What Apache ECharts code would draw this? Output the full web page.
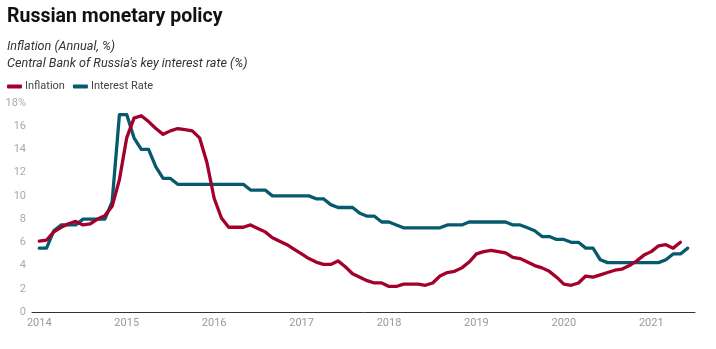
<!DOCTYPE html>
<html>
<head>
<meta charset="utf-8">
<script src="https://cdn.jsdelivr.net/npm/echarts@6/dist/echarts.min.js"></script>
<style>
html,body{margin:0;padding:0;background:#fff;}
#chart{width:716px;height:349px;}
</style>
</head>
<body>
<div id="chart"></div>
<script>
// Monthly, Jan 2014 onwards
const startYear = 2014;
const inflation = [
  6.1, 6.2, 6.9, 7.3, 7.6, 7.8, 7.5, 7.6, 8.0, 8.3, 9.1, 11.4,
  15.0, 16.7, 16.9, 16.4, 15.8, 15.3, 15.6, 15.8, 15.7, 15.6, 15.0, 12.9,
  9.8, 8.1, 7.3, 7.3, 7.3, 7.5, 7.2, 6.9, 6.4, 6.1, 5.8, 5.4,
  5.0, 4.6, 4.3, 4.1, 4.1, 4.4, 3.9, 3.3, 3.0, 2.7, 2.5, 2.5,
  2.2, 2.2, 2.4, 2.4, 2.4, 2.3, 2.5, 3.1, 3.4, 3.5, 3.8, 4.3,
  5.0, 5.2, 5.3, 5.2, 5.1, 4.7, 4.6, 4.3, 4.0, 3.8, 3.5, 3.0,
  2.4, 2.3, 2.5, 3.1, 3.0, 3.2, 3.4, 3.6, 3.7, 4.0, 4.4, 4.9,
  5.2, 5.7, 5.8, 5.5, 6.0
];
const interestRate = [
  5.5, 5.5, 7.0, 7.5, 7.5, 7.5, 8.0, 8.0, 8.0, 8.0, 9.5, 17.0,
  17.0, 15.0, 14.0, 14.0, 12.5, 11.5, 11.5, 11.0, 11.0, 11.0, 11.0, 11.0,
  11.0, 11.0, 11.0, 11.0, 11.0, 10.5, 10.5, 10.5, 10.0, 10.0, 10.0, 10.0,
  10.0, 10.0, 9.75, 9.75, 9.25, 9.0, 9.0, 9.0, 8.5, 8.25, 8.25, 7.75,
  7.75, 7.5, 7.25, 7.25, 7.25, 7.25, 7.25, 7.25, 7.5, 7.5, 7.5, 7.75,
  7.75, 7.75, 7.75, 7.75, 7.75, 7.5, 7.5, 7.25, 7.0, 6.5, 6.5, 6.25,
  6.25, 6.0, 6.0, 5.5, 5.5, 4.5, 4.25, 4.25, 4.25, 4.25, 4.25, 4.25,
  4.25, 4.25, 4.5, 5.0, 5.0, 5.5
];
const yTicks = [0, 2, 4, 6, 8, 10, 12, 14, 16, 18];
const seriesNames = ['Inflation', 'Interest Rate'];

// category list: one blank pad each side, then monthly labels
const months = [];
for (let i = 0; i < interestRate.length; i++) {
  const y = startYear + Math.floor(i / 12);
  const m = (i % 12) + 1;
  months.push(y + '-' + (m < 10 ? '0' + m : m));
}
const categories = [''].concat(months, ['']);

const RED = '#a3002b';
const BLUE = '#075a6e';
const chart = echarts.init(document.getElementById('chart'), null, {renderer: 'canvas'});
chart.setOption({
  animation: false,
  backgroundColor: '#fff',
  textStyle: {fontFamily: 'Roboto'},
  title: [
    {text: 'Russian monetary policy', left: 2, top: 2,
     textStyle: {fontFamily: 'Roboto', fontSize: 19.5, fontWeight: 'bold', color: '#111'}},
    {text: 'Inflation (Annual, %)\nCentral Bank of Russia\'s key interest rate (%)', left: 2, top: 33,
     textStyle: {fontFamily: 'Roboto', fontSize: 12.6, fontStyle: 'italic', fontWeight: 'normal', color: '#333', lineHeight: 17}}
  ],
  legend: {
    left: 2, top: 76, itemWidth: 15, itemHeight: 4, itemGap: 8,
    icon: 'roundRect',
    textStyle: {fontFamily: 'Roboto', fontSize: 11, color: '#444', padding: [0,0,0,-2]},
    data: seriesNames
  },
  grid: {left: 32, right: 21, top: 103, bottom: 37, containLabel: false},
  xAxis: {
    type: 'category', data: categories, boundaryGap: false,
    axisLine: {show: true, lineStyle: {color: '#333', width: 1}},
    axisTick: {show: false},
    splitLine: {show: false},
    axisLabel: {
      color: '#999', fontSize: 11, fontFamily: 'Roboto', margin: 6,
      interval: function (idx, val) { return val.slice(5) === '01'; },
      formatter: function (val) { return val.slice(0, 4); }
    }
  },
  yAxis: {
    type: 'value', min: yTicks[0], max: yTicks[yTicks.length - 1], interval: 2,
    axisLine: {show: false}, axisTick: {show: false}, splitLine: {show: false},
    axisLabel: {
      color: '#aaa', fontSize: 11, fontFamily: 'Roboto', margin: 6,
      formatter: function (v) { return v === 18 ? '18%' : String(v); }
    }
  },
  series: [
    {name: seriesNames[0], type: 'line', data: [null].concat(inflation), showSymbol: false, symbol: 'none',
     lineStyle: {color: RED, width: 3.3, join: 'round', cap: 'round'}, itemStyle: {color: RED}, z: 3},
    {name: seriesNames[1], type: 'line', data: [null].concat(interestRate), showSymbol: false, symbol: 'none',
     lineStyle: {color: BLUE, width: 3.3, join: 'round', cap: 'round'}, itemStyle: {color: BLUE}, z: 2}
  ]
});
</script>
</body>
</html>
